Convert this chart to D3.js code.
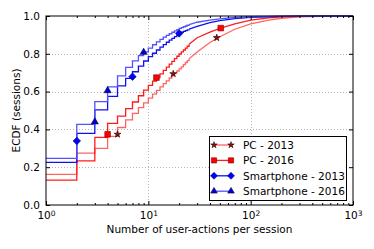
<!DOCTYPE html>
<html>
<head>
<meta charset="utf-8">
<script src="https://cdn.jsdelivr.net/npm/d3@7"></script>
<style>
  body { margin: 0; background: #fff; }
  text { font-family: "DejaVu Sans", sans-serif; }
</style>
</head>
<body>
<div id="chart"></div>
<script>
// ECDF values, one per number of actions (1..25), then a sparse tail.
var seriesNames = ["PC - 2013", "PC - 2016", "Smartphone - 2013", "Smartphone - 2016"];
var stepX = [1, 2, 3, 4, 5, 6, 7, 8, 9, 10, 11, 12, 13, 14, 15, 16, 17, 18, 19, 20, 21, 22, 23, 24, 25];
var pc2013Steps = [0.162, 0.274, 0.30, 0.363, 0.41, 0.45, 0.485, 0.515, 0.54, 0.565, 0.587, 0.607, 0.625, 0.642, 0.657, 0.672, 0.685, 0.698, 0.709, 0.72, 0.731, 0.743, 0.754, 0.764, 0.774];
var pc2016Steps = [0.132, 0.233, 0.358, 0.432, 0.47, 0.51, 0.545, 0.578, 0.608, 0.633, 0.655, 0.674, 0.694, 0.712, 0.729, 0.745, 0.76, 0.774, 0.787, 0.799, 0.81, 0.82, 0.83, 0.84, 0.85];
var sp2013Steps = [0.226, 0.379, 0.503, 0.575, 0.63, 0.67, 0.705, 0.735, 0.762, 0.785, 0.803, 0.82, 0.835, 0.849, 0.861, 0.872, 0.882, 0.891, 0.90, 0.908, 0.914, 0.919, 0.923, 0.927, 0.93];
var sp2016Steps = [0.247, 0.427, 0.547, 0.625, 0.683, 0.728, 0.763, 0.79, 0.81, 0.83, 0.848, 0.863, 0.876, 0.888, 0.898, 0.906, 0.914, 0.921, 0.928, 0.934, 0.939, 0.943, 0.947, 0.951, 0.955];

var tailX = [25, 30, 40, 50, 70, 100, 150, 200, 300, 500, 1000];
var pc2013Tail = [0.774, 0.81, 0.86, 0.89, 0.93, 0.958, 0.978, 0.988, 0.995, 0.998, 1.0];
var pc2016Tail = [0.85, 0.885, 0.915, 0.935, 0.958, 0.978, 0.99, 0.995, 0.998, 0.999, 1.0];
var sp2013Tail = [0.93, 0.945, 0.965, 0.975, 0.986, 0.993, 0.996, 0.998, 0.999, 1.0, 1.0];
var sp2016Tail = [0.955, 0.967, 0.978, 0.985, 0.992, 0.996, 0.998, 0.999, 1.0, 1.0, 1.0];

// marker positions
var pc2013MarkX = [5, 17.5, 46.6], pc2013MarkY = [0.374, 0.694, 0.885];
var pc2016MarkX = [4, 12, 51], pc2016MarkY = [0.374, 0.674, 0.936];
var sp2013MarkX = [2, 7, 20], sp2013MarkY = [0.339, 0.679, 0.908];
var sp2016MarkX = [3, 4, 9], sp2016MarkY = [0.44, 0.605, 0.808];

var xTicks = [1, 10, 100, 1000];
var yTicks = [0, 0.2, 0.4, 0.6, 0.8, 1.0];

var width = 374, height = 249;
var m = { l: 46, r: 21, t: 16, b: 44 };

var svg = d3.select("#chart").append("svg")
  .attr("width", width)
  .attr("height", height);

var x = d3.scaleLog().domain([1, 1000]).range([m.l, width - m.r]);
var y = d3.scaleLinear().domain([0, 1]).range([height - m.b, m.t]);

// grid
var grid = svg.append("g").attr("stroke", "#b5b5b5").attr("stroke-dasharray", "1,2").attr("stroke-width", 1);
grid.selectAll("line.gx").data([10, 100]).enter().append("line")
  .attr("x1", function (d) { return Math.round(x(d)) + 0.5; })
  .attr("x2", function (d) { return Math.round(x(d)) + 0.5; })
  .attr("y1", y(1)).attr("y2", y(0));
grid.selectAll("line.gy").data([0.2, 0.4, 0.6, 0.8]).enter().append("line")
  .attr("y1", function (d) { return Math.round(y(d)) + 0.5; })
  .attr("y2", function (d) { return Math.round(y(d)) + 0.5; })
  .attr("x1", x(1)).attr("x2", x(1000));

var series = [
  { name: seriesNames[0], steps: pc2013Steps, tail: pc2013Tail, mx: pc2013MarkX, my: pc2013MarkY,
    line: "#ff6464", sym: d3.symbolStar, size: 15, fill: "#8b1010", edge: "#300000", rot: 0 },
  { name: seriesNames[1], steps: pc2016Steps, tail: pc2016Tail, mx: pc2016MarkX, my: pc2016MarkY,
    line: "#ff1c1c", sym: d3.symbolSquare, size: 32, fill: "#ff0000", edge: "#800000", rot: 0 },
  { name: seriesNames[2], steps: sp2013Steps, tail: sp2013Tail, mx: sp2013MarkX, my: sp2013MarkY,
    line: "#1010f0", sym: d3.symbolSquare, size: 28, fill: "#0000ff", edge: "#000080", rot: 45 },
  { name: seriesNames[3], steps: sp2016Steps, tail: sp2016Tail, mx: sp2016MarkX, my: sp2016MarkY,
    line: "#5252ff", sym: d3.symbolTriangle, size: 22, fill: "#0000cc", edge: "#000060", rot: 0 }
];

var stepLine = d3.line()
  .x(function (d) { return x(d[0]); })
  .y(function (d) { return y(d[1]); })
  .curve(d3.curveStepAfter);
var tailLine = d3.line()
  .x(function (d) { return x(d[0]); })
  .y(function (d) { return y(d[1]); });

var plot = svg.append("g");
series.forEach(function (s) {
  plot.append("path")
    .attr("d", stepLine(stepX.map(function (k, i) { return [k, s.steps[i]]; })))
    .attr("fill", "none").attr("stroke", s.line).attr("stroke-width", 1.3);
  plot.append("path")
    .attr("d", tailLine(tailX.map(function (k, i) { return [k, s.tail[i]]; })))
    .attr("fill", "none").attr("stroke", s.line).attr("stroke-width", 1.3);
});
series.forEach(function (s) {
  plot.selectAll(null).data(s.mx).enter().append("path")
    .attr("d", d3.symbol().type(s.sym).size(s.size))
    .attr("transform", function (d, i) {
      return "translate(" + x(d) + "," + y(s.my[i]) + ") rotate(" + s.rot + ")";
    })
    .attr("fill", s.fill).attr("stroke", s.edge).attr("stroke-width", 0.6);
});

// axes: ticks point inward on all four sides
var minor = [];
[1, 10, 100].forEach(function (p) { for (var k = 2; k <= 9; k++) minor.push(p * k); });

function clean(g) { g.select(".domain").remove(); g.selectAll(".tick line").attr("stroke", "#000"); }

var xb = svg.append("g").attr("transform", "translate(0," + y(0) + ")")
  .call(d3.axisBottom(x).tickValues(xTicks).tickSize(-4).tickSizeOuter(0).tickPadding(5).tickFormat(""))
  .call(clean);
xb.selectAll(".tick text").remove();
xb.selectAll(".tick").append("text")
  .attr("y", 14).attr("fill", "#000").attr("font-size", 10.5).attr("text-anchor", "middle")
  .each(function (d) {
    var t = d3.select(this);
    t.append("tspan").text("10");
    t.append("tspan").attr("dy", "-0.45em").attr("font-size", 7.5).text(Math.round(Math.log10(d)));
  });
svg.append("g").attr("transform", "translate(0," + y(0) + ")")
  .call(d3.axisBottom(x).tickValues(minor).tickSize(-2).tickSizeOuter(0).tickFormat(""))
  .call(clean);
svg.append("g").attr("transform", "translate(0," + y(1) + ")")
  .call(d3.axisTop(x).tickValues(xTicks).tickSize(-4).tickSizeOuter(0).tickFormat(""))
  .call(clean);
svg.append("g").attr("transform", "translate(0," + y(1) + ")")
  .call(d3.axisTop(x).tickValues(minor).tickSize(-2).tickSizeOuter(0).tickFormat(""))
  .call(clean);
svg.append("g").attr("transform", "translate(" + x(1) + ",0)")
  .call(d3.axisLeft(y).tickValues(yTicks).tickSize(-4).tickSizeOuter(0).tickPadding(6).tickFormat(d3.format(".1f")))
  .call(clean)
  .selectAll("text").attr("font-size", 10.5).attr("fill", "#000").style("font-family", "DejaVu Sans");
svg.append("g").attr("transform", "translate(" + x(1000) + ",0)")
  .call(d3.axisRight(y).tickValues(yTicks).tickSize(-4).tickSizeOuter(0).tickFormat(""))
  .call(clean);

svg.append("rect")
  .attr("x", x(1)).attr("y", y(1))
  .attr("width", x(1000) - x(1)).attr("height", y(0) - y(1))
  .attr("fill", "none").attr("stroke", "#000").attr("stroke-width", 1);

// axis labels
svg.append("text")
  .attr("x", (x(1) + x(1000)) / 2).attr("y", 233)
  .attr("text-anchor", "middle").attr("font-size", 10.5)
  .text("Number of user-actions per session");
svg.append("text")
  .attr("transform", "translate(20," + (y(0.5)) + ") rotate(-90)")
  .attr("text-anchor", "middle").attr("font-size", 10.5)
  .text("ECDF (sessions)");

// legend
var lg = svg.append("g");
lg.append("rect")
  .attr("x", 209.5).attr("y", 136.5).attr("width", 137).attr("height", 64)
  .attr("fill", "#fff").attr("stroke", "#000").attr("stroke-width", 1);
series.forEach(function (s, i) {
  var cy = 145 + i * 15.4;
  lg.append("line")
    .attr("x1", 214).attr("x2", 231).attr("y1", cy).attr("y2", cy)
    .attr("stroke", s.line).attr("stroke-width", 1.3);
  [214, 231].forEach(function (px) {
    lg.append("path")
      .attr("d", d3.symbol().type(s.sym).size(s.size * 0.85))
      .attr("transform", "translate(" + px + "," + cy + ") rotate(" + s.rot + ")")
      .attr("fill", s.fill).attr("stroke", s.edge).attr("stroke-width", 0.6);
  });
  lg.append("text")
    .attr("x", 243).attr("y", cy + 3.8)
    .attr("font-size", 10.5)
    .text(s.name);
});
</script>
</body>
</html>
